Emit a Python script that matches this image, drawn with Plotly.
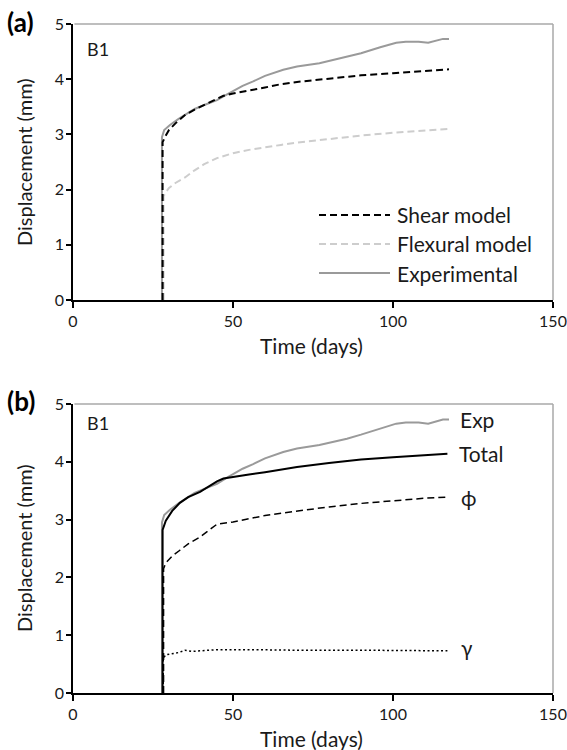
import plotly.graph_objects as go

W, H = 567, 750

# ---------------- data ----------------
# Panel (a)
exp_t = [27.8, 27.8, 28.5, 30.3, 33.0, 35.6, 38.0, 41.8, 45.0, 48.0, 50.0, 53.0, 56.3, 60.0,
         65.7, 70.0, 77.0, 85.6, 90.0, 96.0, 101.0, 104.0, 108.0, 111.0, 113.0, 115.6, 117.5]
exp_d = [0.0, 2.95, 3.08, 3.17, 3.28, 3.38, 3.46, 3.55, 3.62, 3.72, 3.79, 3.88, 3.96, 4.06,
         4.17, 4.23, 4.29, 4.40, 4.47, 4.58, 4.66, 4.68, 4.68, 4.66, 4.69, 4.73, 4.73]

shear_t = [28.0, 28.0, 29.0, 30.0, 32.0, 35.0, 38.0, 41.0, 44.0, 47.0, 50.0, 55.0, 60.0,
           65.0, 70.0, 80.0, 90.0, 100.0, 110.0, 117.5]
shear_d = [0.0, 2.86, 2.98, 3.08, 3.20, 3.35, 3.45, 3.53, 3.62, 3.70, 3.74, 3.79, 3.85,
           3.91, 3.95, 4.01, 4.07, 4.11, 4.15, 4.18]

flex_t = [28.3, 28.3, 29.0, 30.0, 32.0, 35.0, 38.0, 41.0, 45.0, 50.0, 55.0, 60.0, 65.0,
          70.0, 80.0, 90.0, 100.0, 110.0, 117.5]
flex_d = [0.0, 1.88, 1.95, 2.03, 2.12, 2.22, 2.35, 2.46, 2.57, 2.66, 2.72, 2.77, 2.81,
          2.85, 2.92, 2.98, 3.03, 3.07, 3.10]

# Panel (b)
total_t = [28.0, 28.0, 29.0, 31.0, 33.4, 36.0, 39.7, 42.0, 45.0, 47.0, 50.0, 55.0, 60.0, 65.0,
           70.0, 80.0, 90.0, 100.0, 110.0, 117.0]
total_d = [0.0, 2.82, 2.98, 3.15, 3.29, 3.39, 3.48, 3.56, 3.66, 3.71, 3.74, 3.78, 3.82, 3.87,
           3.91, 3.98, 4.04, 4.08, 4.12, 4.14]

phi_t = [28.3, 28.3, 29.0, 31.0, 33.4, 36.0, 39.7, 42.0, 45.0, 50.0, 55.0, 60.0, 65.0,
         70.0, 80.0, 90.0, 100.0, 110.0, 117.0]
phi_d = [0.0, 2.15, 2.25, 2.37, 2.47, 2.58, 2.70, 2.80, 2.92, 2.96, 3.02, 3.07, 3.11,
         3.15, 3.22, 3.28, 3.33, 3.37, 3.39]

gam_t = [28.2, 28.2, 29.0, 31.0, 33.0, 35.0, 37.0, 40.0, 45.0, 55.0, 70.0, 90.0, 117.0]
gam_d = [0.0, 0.60, 0.66, 0.68, 0.70, 0.74, 0.72, 0.73, 0.75, 0.75, 0.74, 0.74, 0.73]

x_ticks = [0, 50, 100, 150]
y_ticks = [0, 1, 2, 3, 4, 5]

legend_a = ["Shear model", "Flexural model", "Experimental"]
labels_b = ["Exp", "Total", "\u03d5", "\u03b3"]

# ---------------- styles ----------------
FONT = "Lato, 'Open Sans', sans-serif"
TXT = "#1a1a1a"
C_EXP = "#9a9a9a"
C_FLEX = "#cdcdcd"
DASH = "7px,4px"
FS_TICK = 16
FS_TXT = 21

fig = go.Figure()

# Panel (a)
fig.add_trace(go.Scatter(x=exp_t, y=exp_d, mode="lines", name=legend_a[2],
                         line=dict(color=C_EXP, width=2), xaxis="x", yaxis="y"))
fig.add_trace(go.Scatter(x=flex_t, y=flex_d, mode="lines", name=legend_a[1],
                         line=dict(color=C_FLEX, width=2, dash=DASH), xaxis="x", yaxis="y"))
fig.add_trace(go.Scatter(x=shear_t, y=shear_d, mode="lines", name=legend_a[0],
                         line=dict(color="black", width=2, dash=DASH), xaxis="x", yaxis="y"))

# Panel (b)
fig.add_trace(go.Scatter(x=exp_t, y=exp_d, mode="lines", name=labels_b[0],
                         line=dict(color=C_EXP, width=2), xaxis="x2", yaxis="y2"))
fig.add_trace(go.Scatter(x=gam_t, y=gam_d, mode="lines", name=labels_b[3],
                         line=dict(color="black", width=1.5, dash="2px,2.5px"), xaxis="x2", yaxis="y2"))
fig.add_trace(go.Scatter(x=phi_t, y=phi_d, mode="lines", name=labels_b[2],
                         line=dict(color="black", width=1.5, dash=DASH), xaxis="x2", yaxis="y2"))
fig.add_trace(go.Scatter(x=total_t, y=total_d, mode="lines", name=labels_b[1],
                         line=dict(color="black", width=2), xaxis="x2", yaxis="y2"))

# empty traces so the label-carrying y axes get drawn
fig.add_trace(go.Scatter(x=[], y=[], mode="lines", showlegend=False, hoverinfo="skip",
                         xaxis="x", yaxis="y3"))
fig.add_trace(go.Scatter(x=[], y=[], mode="lines", showlegend=False, hoverinfo="skip",
                         xaxis="x2", yaxis="y4"))

XDOM = [73 / W, 553 / W]
YDOM_A = [1 - 300 / H, 1 - 24 / H]
YDOM_B = [1 - 693 / H, 1 - 404 / H]
YLAB_POS = 64 / W  # position of the axis that carries the y tick labels

xcommon = dict(range=[0, 150], tickvals=x_ticks, ticks="outside", ticklen=6, tickwidth=2,
               tickcolor="black", showline=True, linecolor="black", linewidth=2,
               showgrid=False, zeroline=False, automargin=False,
               tickfont=dict(family=FONT, size=FS_TICK, color=TXT),
               fixedrange=True)
ycommon = dict(range=[0, 5], tickvals=y_ticks, ticks="outside", ticklen=5, tickwidth=1.5,
               tickcolor="black", showline=True, linecolor="black", linewidth=2,
               showgrid=False, zeroline=False, automargin=False, showticklabels=False,
               fixedrange=True)
ylabels = dict(range=[0, 5], tickvals=y_ticks, ticks="", showline=False, showgrid=False,
               zeroline=False, automargin=False, showticklabels=True, anchor="free",
               position=YLAB_POS, side="left", tickfont=dict(family=FONT, size=FS_TICK, color=TXT),
               fixedrange=True)

fig.update_layout(
    width=W, height=H, autosize=False,
    margin=dict(l=0, r=0, t=0, b=0, pad=0),
    paper_bgcolor="white", plot_bgcolor="white",
    showlegend=False,
    font=dict(family=FONT, color=TXT),
    xaxis=dict(domain=XDOM, anchor="y", **xcommon),
    yaxis=dict(domain=YDOM_A, anchor="x", **ycommon),
    xaxis2=dict(domain=XDOM, anchor="y2", **xcommon),
    yaxis2=dict(domain=YDOM_B, anchor="x2", **ycommon),
    yaxis3=dict(domain=YDOM_A, overlaying="y", **ylabels),
    yaxis4=dict(domain=YDOM_B, overlaying="y2", **ylabels),
)

shapes = []
# top/right gray frame for both panels
for xr, yr in (("x", "y"), ("x2", "y2")):
    shapes.append(dict(type="line", xref=f"{xr} domain", yref=f"{yr} domain",
                       x0=0.003, x1=1, y0=1, y1=1, line=dict(color="#a8a8a8", width=1.5)))
    shapes.append(dict(type="line", xref=f"{xr} domain", yref=f"{yr} domain",
                       x0=1, x1=1, y0=0, y1=1, line=dict(color="#a8a8a8", width=1.5)))

# manual legend for panel (a)
leg_rows = [215, 244, 273]
leg_styles = [dict(color="black", width=2, dash=DASH),
              dict(color=C_FLEX, width=2, dash=DASH),
              dict(color=C_EXP, width=2)]
annotations = []
for name, ry, st in zip(legend_a, leg_rows, leg_styles):
    shapes.append(dict(type="line", xref="paper", yref="paper",
                       x0=319 / W, x1=390 / W, y0=1 - ry / H, y1=1 - ry / H, line=st))
    annotations.append(dict(text=name, xref="paper", yref="paper", x=395 / W, y=1 - ry / H,
                            xanchor="left", yanchor="middle", showarrow=False,
                            font=dict(family=FONT, size=FS_TXT, color=TXT)))

# series labels for panel (b)
lab_x = [120.3, 120.0, 120.5, 120.5]
lab_y = [exp_d[-1], total_d[-1], phi_d[-1], gam_d[-1]]
lab_shift = [0, 0, 0, 3]
for t, lx, ly, sh in zip(labels_b, lab_x, lab_y, lab_shift):
    annotations.append(dict(text=t, xref="x2", yref="y2", x=lx, y=ly, yshift=sh,
                            xanchor="left", yanchor="middle", showarrow=False,
                            font=dict(family=FONT, size=FS_TXT, color=TXT)))

# panel letters, B1, axis titles
for letter, cy in (("(a)", 22), ("(b)", 401)):
    annotations.append(dict(text=f"<b>{letter}</b>", xref="paper", yref="paper", x=5 / W, y=1 - cy / H,
                            xanchor="left", yanchor="middle", showarrow=False,
                            font=dict(family=FONT, size=26, color="black")))
for cy in (49, 423):
    annotations.append(dict(text="B1", xref="paper", yref="paper", x=85 / W, y=1 - cy / H,
                            xanchor="left", yanchor="middle", showarrow=False,
                            font=dict(family=FONT, size=18, color=TXT)))
for cy in (345, 738):
    annotations.append(dict(text="Time (days)", xref="paper", yref="paper", x=311 / W, y=1 - cy / H,
                            xanchor="center", yanchor="middle", showarrow=False,
                            font=dict(family=FONT, size=FS_TXT, color=TXT)))
for cy in (162, 548):
    annotations.append(dict(text="Displacement (mm)", xref="paper", yref="paper", x=24 / W, y=1 - cy / H,
                            xanchor="center", yanchor="middle", showarrow=False, textangle=-90,
                            font=dict(family=FONT, size=20, color=TXT)))

fig.update_layout(shapes=shapes, annotations=annotations)
fig.write_html("out.html")
